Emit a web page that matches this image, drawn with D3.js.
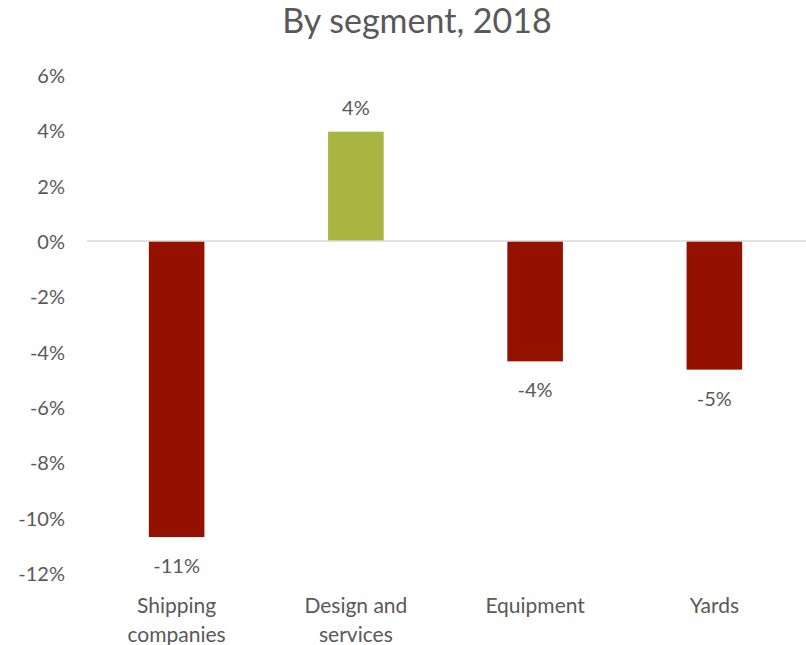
<!DOCTYPE html>
<html>
<head>
<meta charset="utf-8">
<script src="https://cdn.jsdelivr.net/npm/d3@7"></script>
<style>
  html, body { margin: 0; padding: 0; background: #fff; }
  svg text { font-family: Lato, "Open Sans", sans-serif; fill: #595959; }
</style>
</head>
<body>
<svg id="chart" width="806" height="645"></svg>
<script>
// Change by segment, 2018
const categories = ["Shipping companies", "Design and services", "Equipment", "Yards"];
const values = [-0.107, 0.0395, -0.0435, -0.0465];
const tickValues = [0.06, 0.04, 0.02, 0, -0.02, -0.04, -0.06, -0.08, -0.10, -0.12];
const titleText = "By segment, 2018";

const positiveColor = "#a8b540";
const negativeColor = "#941100";

const svg = d3.select("#chart");
const W = 806, H = 645;
const margin = { top: 75, right: 2, bottom: 72, left: 87 };

const x = d3.scaleBand()
  .domain(categories)
  .range([margin.left, W - margin.right])
  .paddingInner(0.69)
  .paddingOuter(0.345);

const y = d3.scaleLinear()
  .domain([-0.12, 0.06])
  .range([573, 75]);

// Percent with a plain hyphen for negatives
const fmt = d3.format(".0%");
const pct = v => fmt(v).replace("\u2212", "-");

// Title
svg.append("text")
  .attr("x", 417)
  .attr("y", 33)
  .attr("text-anchor", "middle")
  .style("font-size", "34px")
  .text(titleText);

// Y axis: labels only
const yAxis = d3.axisLeft(y)
  .tickValues(tickValues)
  .tickFormat(pct)
  .tickSize(0)
  .tickPadding(0);

const gy = svg.append("g")
  .attr("transform", "translate(65,1)")
  .call(yAxis);
gy.select(".domain").remove();
gy.selectAll("text")
  .style("font-size", "20px")
  .style("font-family", "Lato, sans-serif")
  .attr("fill", "#595959");

// Bars
svg.append("g")
  .selectAll("rect")
  .data(values)
  .join("rect")
  .attr("x", (d, i) => x(categories[i]))
  .attr("width", x.bandwidth())
  .attr("y", d => y(Math.max(0, d)))
  .attr("height", d => Math.abs(y(d) - y(0)))
  .attr("fill", d => d >= 0 ? positiveColor : negativeColor);

// Zero baseline
svg.append("line")
  .attr("x1", margin.left)
  .attr("x2", W)
  .attr("y1", y(0))
  .attr("y2", y(0))
  .attr("stroke", "#d9d9d9")
  .attr("stroke-width", 1.5);

// Value labels
svg.append("g")
  .selectAll("text")
  .data(values)
  .join("text")
  .attr("x", (d, i) => x(categories[i]) + x.bandwidth() / 2)
  .attr("y", d => d >= 0 ? y(d) - 24 : y(d) + 29)
  .attr("dy", "0.35em")
  .attr("text-anchor", "middle")
  .style("font-size", "20px")
  .text(d => pct(d));

// Category labels, wrapped to the band
function wrapWords(label, maxWidth, measure) {
  const words = label.split(" ");
  const lines = [];
  let line = "";
  words.forEach(w => {
    const test = line ? line + " " + w : w;
    if (line && measure(test) > maxWidth) { lines.push(line); line = w; }
    else line = test;
  });
  if (line) lines.push(line);
  return lines;
}

const catSize = "21px";
const measurer = svg.append("text").style("font-size", catSize).attr("visibility", "hidden");
const measure = s => { measurer.text(s); return measurer.node().getComputedTextLength(); };

const gx = svg.append("g");
categories.forEach(c => {
  const lines = wrapWords(c, 125, measure);
  const cx = x(c) + x.bandwidth() / 2;
  const t = gx.append("text")
    .attr("x", cx)
    .attr("y", 606)
    .attr("text-anchor", "middle")
    .style("font-size", catSize);
  lines.forEach((ln, k) => {
    t.append("tspan")
      .attr("x", cx)
      .attr("dy", k === 0 ? "0.35em" : "1.36em")
      .text(ln);
  });
});
measurer.remove();
</script>
</body>
</html>
